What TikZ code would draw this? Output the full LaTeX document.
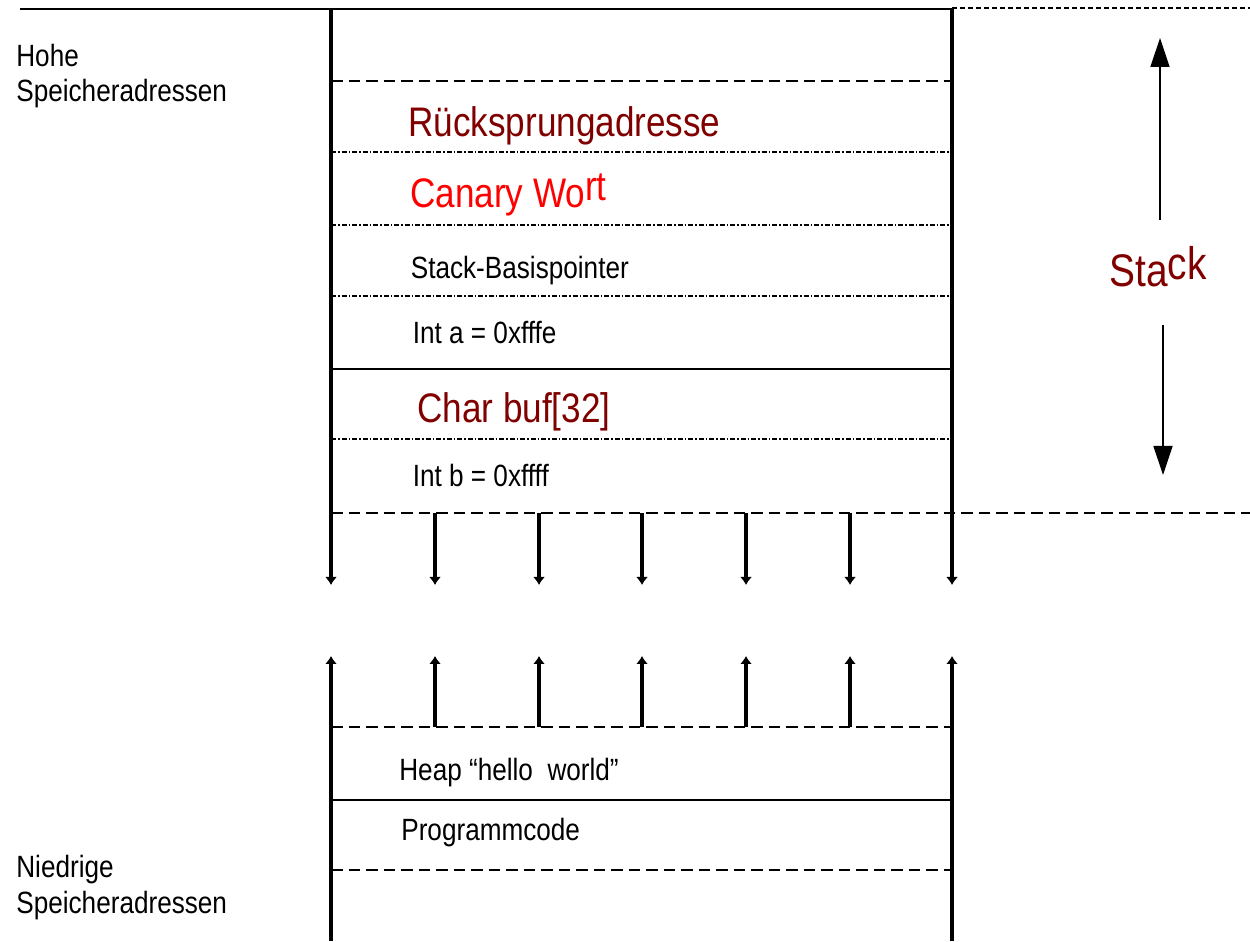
\documentclass[tikz,border=0pt]{standalone}
\usepackage{fontspec}
\setmainfont{Liberation Sans}[FakeStretch=0.85]
\usepackage{tikz}
\usetikzlibrary{arrows.meta}
\usepackage{xcolor}
\definecolor{maroon}{HTML}{800000}
\definecolor{alarmred}{HTML}{FF0000}

\begin{document}
\begin{tikzpicture}[
    sepSolid/.style={line width=1.6pt},
    sepDashed/.style={line width=1.5pt, dash pattern=on 2.3mm off 1.2mm},
    sepFine/.style={line width=1.3pt, dash pattern=on 1mm off 0.6mm},
    sepDotDash/.style={line width=1.3pt, dash pattern=on 1mm off 0.4mm on 0.3mm off 0.4mm},
    growArrow/.style={line width=2pt, -{Latex[length=1.6mm,width=2.4mm]}},
    stackArrow/.style={line width=0.9pt, -{Triangle[length=5.8mm,width=3.8mm]}},
    plainText/.style={anchor=base west, inner sep=0pt, font=\fontsize{17.5}{20.5}\selectfont},
    bigText/.style={anchor=base west, inner sep=0pt, font=\fontsize{23.5}{28}\selectfont},
    sideText/.style={anchor=base west, inner sep=0pt, align=left, font=\fontsize{17.5}{20.4}\selectfont}
]
    \useasboundingbox (0,0) rectangle (25,18.82);

    \coordinate (sTL) at (6.62,18.64);
    \coordinate (sTR) at (19.04,18.64);
    \coordinate (sBL) at (6.62,7.12);
    \coordinate (sBR) at (19.04,7.12);
    \coordinate (hTL) at (6.62,5.70);
    \coordinate (hTR) at (19.04,5.70);
    \coordinate (hBL) at (6.62,0);
    \coordinate (hBR) at (19.04,0);

    \coordinate (m1) at (8.70,8.56);
    \coordinate (m2) at (10.78,8.56);
    \coordinate (m3) at (12.84,8.56);
    \coordinate (m4) at (14.92,8.56);
    \coordinate (m5) at (17.00,8.56);

    \coordinate (n1) at (8.70,4.28);
    \coordinate (n2) at (10.78,4.28);
    \coordinate (n3) at (12.84,4.28);
    \coordinate (n4) at (14.92,4.28);
    \coordinate (n5) at (17.00,4.28);

    \draw[sepSolid] (0.40,18.64) -- (sTR);
    \draw[sepFine] (sTR) ++(0,0.02) -- (25,18.66);

    \draw[sepDashed]  (6.62,17.20) -- (19.04,17.20);
    \draw[sepDotDash] (6.62,15.78) -- (19.04,15.78);
    \draw[sepDotDash] (6.62,14.32) -- (19.04,14.32);
    \draw[sepDotDash] (6.62,12.90) -- (19.04,12.90);
    \draw[sepSolid]   (6.62,11.44) -- (19.04,11.44);
    \draw[sepDotDash] (6.62,10.04) -- (19.04,10.04);
    \draw[sepDashed]  (6.62,8.56) -- (25,8.56);

    \draw[sepDashed] (6.62,4.28) -- (19.04,4.28);
    \draw[sepSolid]  (6.62,2.82) -- (19.04,2.82);
    \draw[sepDashed] (6.62,1.42) -- (19.04,1.42);

    \draw[growArrow] (sTL) -- (sBL);
    \draw[growArrow] (sTR) -- (sBR);
    \draw[growArrow] (m1) -- (m1 |- sBL);
    \draw[growArrow] (m2) -- (m2 |- sBL);
    \draw[growArrow] (m3) -- (m3 |- sBL);
    \draw[growArrow] (m4) -- (m4 |- sBL);
    \draw[growArrow] (m5) -- (m5 |- sBL);

    \draw[growArrow] (hBL) -- (hTL);
    \draw[growArrow] (hBR) -- (hTR);
    \draw[growArrow] (n1) -- (n1 |- hTL);
    \draw[growArrow] (n2) -- (n2 |- hTL);
    \draw[growArrow] (n3) -- (n3 |- hTL);
    \draw[growArrow] (n4) -- (n4 |- hTL);
    \draw[growArrow] (n5) -- (n5 |- hTL);

    \node[sideText] (hiAddr) at (0.32,16.78) {Hohe\\Speicheradressen};
    \node[sideText] (loAddr) at (0.32,0.56) {Niedrige\\Speicheradressen};

    \node[bigText, text=maroon]   (ret)    at (8.16,16.08) {Rücksprungadresse};
    \node[bigText, text=alarmred] (canary) at (8.20,14.66) {Canary Wo\raisebox{1.4mm}{rt}};
    \node[plainText] (sbp)  at (8.21,13.24) {Stack-Basispointer};
    \node[plainText] (inta) at (8.25,11.94) {Int a = 0xfffe};
    \node[bigText, text=maroon] (buf) at (8.34,10.36) {Char buf[32]};
    \node[plainText] (intb) at (8.25,9.08) {Int b = 0xffff};

    \node[plainText] (heap) at (7.98,3.20) {Heap “hello~ world”};
    \node[plainText] (code) at (8.02,2.00) {Programmcode};

    \node[anchor=base west, inner sep=0pt, text=maroon, font=\fontsize{26}{30}\selectfont] (stk) at (22.18,13.08) {Sta\raisebox{1.4mm}{ck}};
    \coordinate (upFrom) at (23.20,14.42);
    \coordinate (upTo) at (23.20,18.06);
    \coordinate (downFrom) at (23.26,12.32);
    \coordinate (downTo) at (23.26,9.32);
    \draw[stackArrow] (upFrom) -- (upTo);
    \draw[stackArrow] (downFrom) -- (downTo);
\end{tikzpicture}
\end{document}
